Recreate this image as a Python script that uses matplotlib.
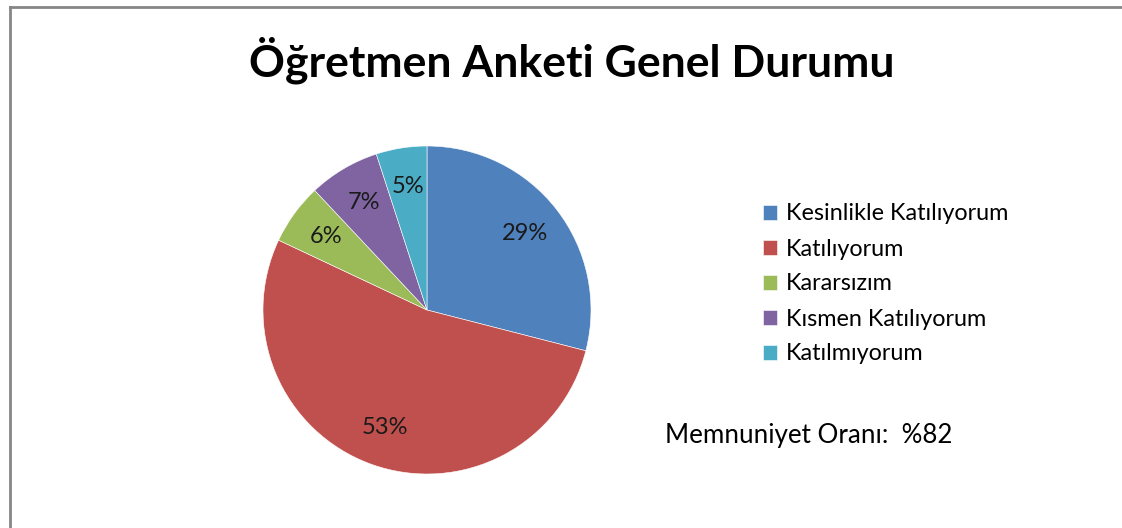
import matplotlib
import matplotlib.pyplot as plt
from matplotlib.lines import Line2D

matplotlib.use('Agg')

categories = ['Kesinlikle Katılıyorum', 'Katılıyorum', 'Kararsızım',
              'Kısmen Katılıyorum', 'Katılmıyorum']
values = [29, 53, 6, 7, 5]
colors = ['#4F81BD', '#C0504D', '#9BBB59', '#8064A2', '#4BACC6']
title = 'Öğretmen Anketi Genel Durumu'
note = 'Memnuniyet Oranı:  %82'

plt.rcParams['font.family'] = ['Lato', 'DejaVu Sans']

W, H = 1122, 528
fig = plt.figure(figsize=(W / 100, H / 100), dpi=100)

# pie axes: centre ~ (427, 310) px, radius ~ 164 px
cx, cy, r = 427, 310, 164
ax = fig.add_axes([(cx - r) / W, 1 - (cy + r) / H, 2 * r / W, 2 * r / H])
wedges, texts, autotexts = ax.pie(
    values, colors=colors, startangle=90, counterclock=False,
    autopct='%1.0f%%', pctdistance=0.76, radius=1.0,
    wedgeprops={'linewidth': 0.4, 'edgecolor': 'white'},
    textprops={'fontsize': 17, 'color': '#1a1a1a'})
ax.set_xlim(-1, 1)
ax.set_ylim(-1, 1)
ax.set_aspect('equal')

fig.text(572 / W, 1 - 60 / H, title, ha='center', va='center',
         fontsize=32, fontweight='bold', color='black')

leg = fig.legend(wedges, categories, loc='center left',
                 bbox_to_anchor=(751 / W, 1 - 284 / H), frameon=False,
                 fontsize=16.8, handlelength=0.6, handleheight=0.6,
                 handletextpad=0.38, labelspacing=0.6, borderpad=0)

fig.text(665 / W, 1 - 435 / H, note, ha='left', va='center',
         fontsize=18.7, color='black')

# chart area border (top and left only visible)
fig.add_artist(Line2D([10 / W, 1], [1 - 7 / H, 1 - 7 / H],
                      transform=fig.transFigure, color='#868686', lw=2))
fig.add_artist(Line2D([10 / W, 10 / W], [0, 1 - 7 / H],
                      transform=fig.transFigure, color='#868686', lw=2))

fig.savefig('out.png', dpi=100)
plt.close(fig)
